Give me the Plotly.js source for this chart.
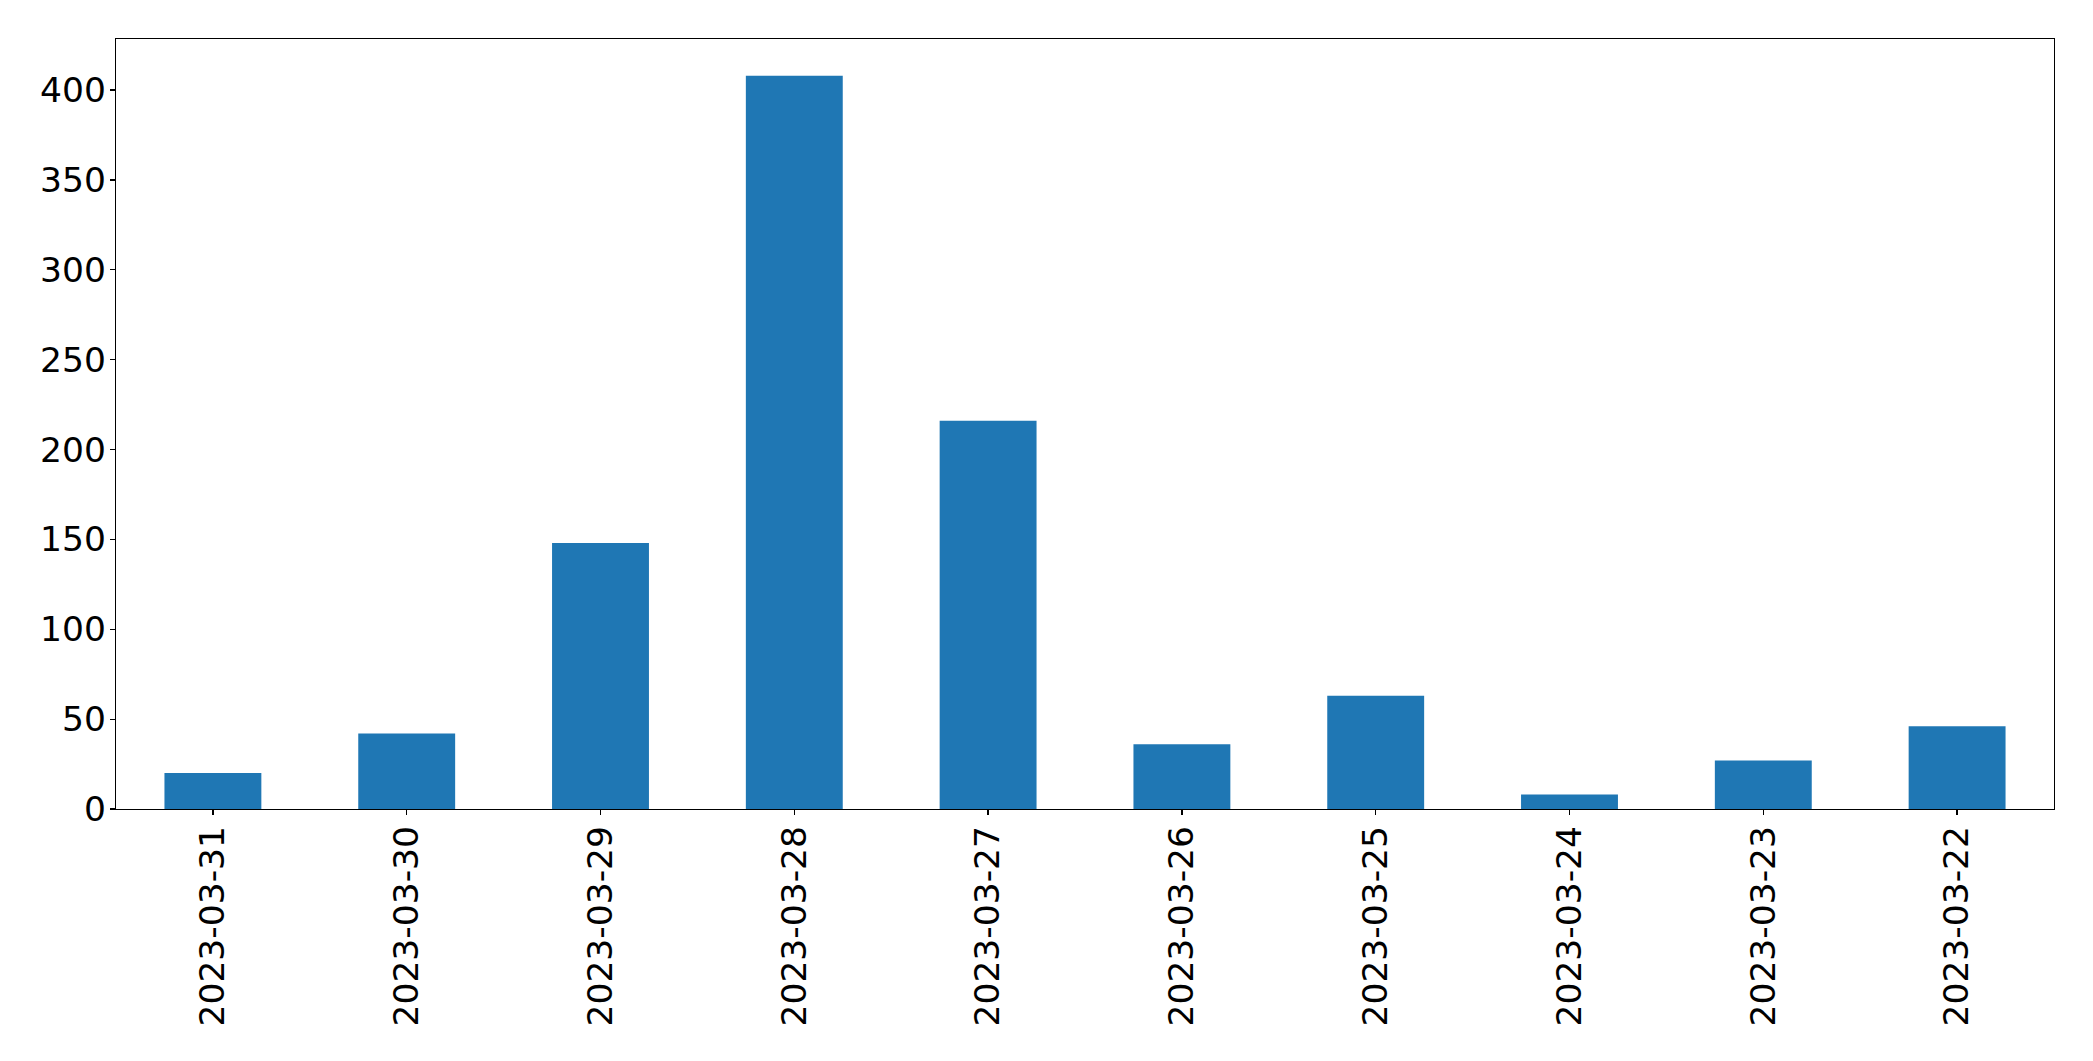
<!DOCTYPE html>
<html>
<head>
<meta charset="utf-8">
<script src="https://cdn.plot.ly/plotly-3.0.1.min.js"></script>
<style>
html, body { margin: 0; padding: 0; background: #ffffff; }
#chart { width: 2093px; height: 1061px; }
</style>
</head>
<body>
<div id="chart"></div>
<script>
const categories = ["2023-03-31", "2023-03-30", "2023-03-29", "2023-03-28", "2023-03-27",
                    "2023-03-26", "2023-03-25", "2023-03-24", "2023-03-23", "2023-03-22"];
const counts = [20, 42, 148, 408, 216, 36, 63, 8, 27, 46];
const yTicks = [0, 50, 100, 150, 200, 250, 300, 350, 400];

const trace = {
  type: "bar",
  x: categories,
  y: counts,
  width: 0.5,
  marker: { color: "#1f77b4", line: { width: 0 } },
  hoverinfo: "x+y"
};

const maxVal = Math.max(...counts);

const layout = {
  width: 2093,
  height: 1061,
  margin: { l: 116, r: 39, t: 39, b: 252, pad: 0 },
  paper_bgcolor: "#ffffff",
  plot_bgcolor: "#ffffff",
  showlegend: false,
  font: { family: "DejaVu Sans", size: 34.5, color: "#000000" },
  xaxis: {
    type: "category",
    range: [-0.5, categories.length - 0.5],
    showgrid: false,
    zeroline: false,
    showline: true,
    mirror: true,
    linecolor: "#000000",
    linewidth: 1.2,
    ticks: "outside",
    ticklen: 5,
    tickwidth: 1.2,
    tickcolor: "#000000",
    tickangle: -90,
    ticklabelstandoff: -3,
    tickfont: { family: "DejaVu Sans", size: 34.5, color: "#000000" },
    automargin: false
  },
  yaxis: {
    range: [0, maxVal * 1.05],
    tickvals: yTicks,
    ticktext: yTicks.map(String),
    showgrid: false,
    zeroline: false,
    showline: true,
    mirror: true,
    linecolor: "#000000",
    linewidth: 1.2,
    ticks: "outside",
    ticklen: 5,
    tickwidth: 1.2,
    tickcolor: "#000000",
    ticklabelstandoff: -3,
    tickfont: { family: "DejaVu Sans", size: 34.5, color: "#000000" },
    automargin: false
  }
};

Plotly.newPlot("chart", [trace], layout, { displayModeBar: false, staticPlot: true });
</script>
</body>
</html>
